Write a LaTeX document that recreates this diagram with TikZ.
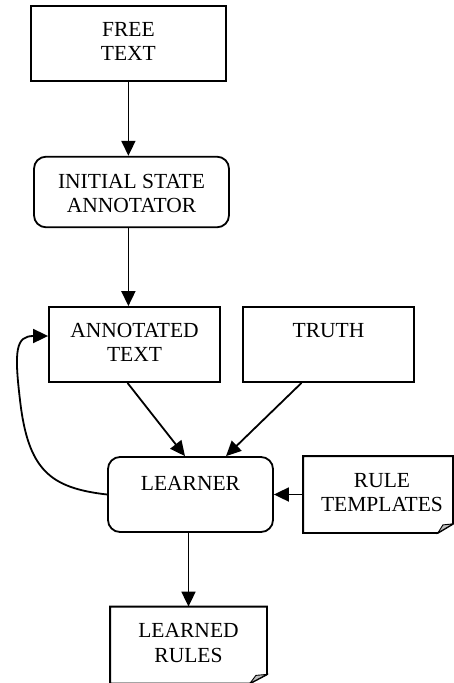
\documentclass[tikz,border=0pt]{standalone}
\usepackage{fontspec}
\setmainfont{Liberation Serif}
\usetikzlibrary{arrows.meta,positioning}

\begin{document}
\begin{tikzpicture}[x=1pt, y=-1pt, line width=1.8pt,
        plainbox/.style={draw, minimum height=75pt, inner sep=0pt},
        roundbox/.style={plainbox, rounded corners=12pt},
        notebox/.style={minimum height=75pt, inner sep=0pt},
        boxtext/.style={align=center, inner sep=0pt, font=\fontsize{21.5}{24.5}\selectfont},
        flow/.style={-{Triangle[length=15pt, width=14pt]}, line width=1.8pt}]
        \useasboundingbox (0,0) rectangle (453,683);

        % Boxes
        \node[plainbox, minimum width=195pt] (free) at (128.4,43.5) {};
        \node[roundbox, minimum width=195pt, minimum height=70.6pt] (annotator) at (131.5,192) {};
        \node[plainbox, minimum width=171pt] (annotated) at (134.5,344.5) {};
        \node[plainbox, minimum width=171pt] (truth) at (328.5,344.5) {};
        \node[roundbox, minimum width=165pt] (learner) at (190.5,494.5) {};
        \node[notebox, minimum width=148pt] (templates) at (378,494.5) {};
        \node[notebox, minimum width=155pt] (learned) at (188.5,645) {};

        % Folded notes
        \draw (templates.north west) -- (templates.north east) -- ([yshift=9pt]templates.south east)
            -- ([xshift=-15pt]templates.south east) -- (templates.south west) -- cycle;
        \filldraw[fill=black!25, line width=0.9pt] ([yshift=9pt]templates.south east)
            -- ([xshift=-10pt, yshift=8pt]templates.south east) -- ([xshift=-15pt]templates.south east) -- cycle;
        \draw (learned.north west) -- (learned.north east) -- ([yshift=9pt]learned.south east)
            -- ([xshift=-17pt]learned.south east) -- (learned.south west) -- cycle;
        \filldraw[fill=black!25, line width=0.9pt] ([yshift=9pt]learned.south east)
            -- ([xshift=-11pt, yshift=8pt]learned.south east) -- ([xshift=-17pt]learned.south east) -- cycle;

        % Texts
        \node[boxtext, below=16pt of free.north] (freetext) {FREE\\TEXT};
        \node[boxtext, below=17.5pt of annotator.north] (annotatortext) {INITIAL STATE\\ANNOTATOR};
        \node[boxtext, below=16pt of annotated.north] (annotatedtext) {ANNOTATED\\TEXT};
        \node[boxtext, below=16pt of truth.north] (truthtext) {TRUTH};
        \node[boxtext, below=19pt of learner.north] (learnertext) {LEARNER};
        \node[boxtext, below=16pt of templates.north, xshift=4pt] (templatestext) {RULE\\TEMPLATES};
        \node[boxtext, below=16pt of learned.north] (learnedtext) {LEARNED\\RULES};

        % Arrows
        \draw[flow] (free.south) -- (free.south |- annotator.north);
        \draw[flow] (annotator.south -| free.south) -- (free.south |- annotated.north);
        \draw[flow] ([xshift=-7pt]annotated.south) -- ([xshift=-5.5pt]learner.north);
        \draw[flow] ([xshift=-27pt]truth.south) -- ([xshift=35.5pt]learner.north);
        \draw[flow] (templates.west) -- (learner.east);
        \draw[flow] (learner.south -| learned.north) -- (learned.north);

        % Feedback loop
        \draw[flow] (learner.west) .. controls (50,488) and (28,470) .. (20,400)
            .. controls (14,350) and (16,336) .. ([yshift=8.5pt]annotated.west);

\end{tikzpicture}
\end{document}
